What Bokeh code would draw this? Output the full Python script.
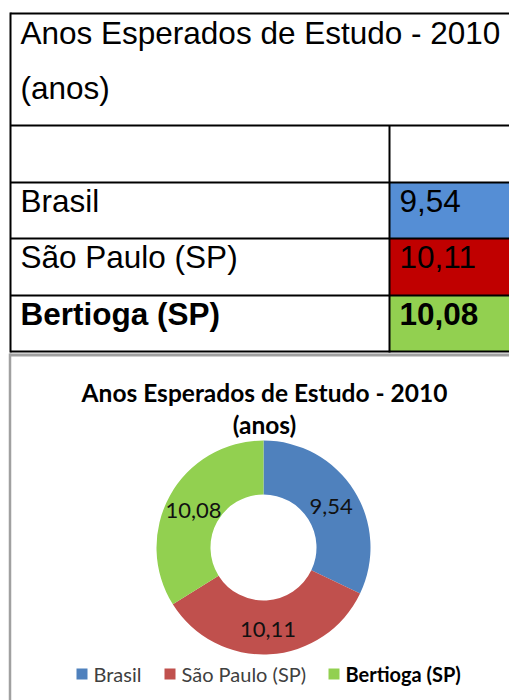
import numpy as np
from bokeh.plotting import figure
from bokeh.models import Range1d
from bokeh.core.properties import value
from bokeh.embed import file_html
from bokeh.resources import INLINE

# ---------------- data ----------------
title_lines = ["Anos Esperados de Estudo - 2010", "(anos)"]
categories = ["Brasil", "São Paulo (SP)", "Bertioga (SP)"]
values = [9.54, 10.11, 10.08]
table_colors = ["#558ED5", "#C00000", "#92D050"]
chart_colors = ["#4F81BD", "#C0504D", "#92D050"]
bold_flags = [False, False, True]

value_labels = [f"{v:.2f}".replace(".", ",") for v in values]

# ---------------- layout (page pixel coordinates) ----------------
W, H = 509, 700


def Y(py):
    return H - py


p = figure(width=W, height=H, x_range=Range1d(0, W), y_range=Range1d(0, H),
           output_backend="svg", toolbar_location=None, min_border=0,
           x_axis_location=None, y_axis_location=None)
p.xgrid.visible = False
p.ygrid.visible = False
p.outline_line_color = None
p.background_fill_color = "white"

# ----- table -----
row_tops = [182, 238, 295]
row_bottoms = [238, 295, 351]
row_text_mid = [200.5, 256.5, 313.5]
col_x = 389
TABLE_FONT = value("Liberation Sans")
TFS = "31.5px"

p.quad(left=col_x, right=515, top=[Y(t) for t in row_tops], bottom=[Y(b) for b in row_bottoms],
       fill_color=table_colors, line_color=None)

h_lines = [13, 125, 182, 238, 295, 351]
p.segment(x0=[10] * len(h_lines), x1=[515] * len(h_lines), y0=[Y(v) for v in h_lines],
          y1=[Y(v) for v in h_lines], line_color="black", line_width=2)
p.segment(x0=[10, col_x], x1=[10, col_x], y0=[Y(12), Y(125)], y1=[Y(352), Y(352)],
          line_color="black", line_width=2)

p.text(x=[20, 20], y=[Y(32.5), Y(87)], text=title_lines, text_font=TABLE_FONT,
       text_font_size=TFS, text_baseline="middle", text_align="left", text_color="black")

for i, (cat, lab) in enumerate(zip(categories, value_labels)):
    style = "bold" if bold_flags[i] else "normal"
    p.text(x=[20], y=[Y(row_text_mid[i])], text=[cat], text_font=TABLE_FONT,
           text_font_size=TFS, text_font_style=style, text_baseline="middle", text_color="black")
    p.text(x=[399], y=[Y(row_text_mid[i])], text=[lab], text_font=TABLE_FONT,
           text_font_size=TFS, text_font_style=style, text_baseline="middle", text_color="black")

# ----- chart frame -----
p.segment(x0=[9], x1=[515], y0=[Y(354.5)], y1=[Y(354.5)], line_color="#a0a0a0", line_width=3)
p.segment(x0=[9.5], x1=[9.5], y0=[Y(353)], y1=[Y(705)], line_color="#a0a0a0", line_width=2.5)

CHART_FONT = value("Lato")
p.text(x=[264, 264], y=[Y(391.5), Y(424)], text=title_lines, text_font=CHART_FONT,
       text_font_size="24.5px", text_font_style="bold", text_align="center",
       text_baseline="middle", text_color="black")

# ----- donut -----
cx, cy = 263, Y(547)
r_out, r_in = 107, 53
vals = np.array(values)
frac = vals / vals.sum()
cum = np.concatenate([[0], np.cumsum(frac)])
start = np.pi / 2 - 2 * np.pi * cum[:-1]
end = np.pi / 2 - 2 * np.pi * cum[1:]
p.annular_wedge(x=cx, y=cy, inner_radius=r_in, outer_radius=r_out,
                start_angle=start, end_angle=end, direction="clock",
                fill_color=chart_colors, line_color=None)

mid = (start + end) / 2
r_mid = (r_in + r_out) / 2
p.text(x=cx + r_mid * np.cos(mid), y=cy + r_mid * np.sin(mid) - 2, text=value_labels,
       text_font=CHART_FONT, text_font_size="22px", text_align="center",
       text_baseline="middle", text_color="#111111")

# ----- legend -----
leg_sq_x = [76, 164, 328]
leg_y = 673.5
sq = 11
p.quad(left=leg_sq_x, right=[x + sq for x in leg_sq_x], top=Y(leg_y - sq / 2),
       bottom=Y(leg_y + sq / 2), fill_color=chart_colors, line_color=None)
for i, cat in enumerate(categories):
    p.text(x=[leg_sq_x[i] + sq + 6], y=[Y(673)], text=[cat], text_font=CHART_FONT,
           text_font_size="20px", text_font_style="bold" if bold_flags[i] else "normal",
           text_baseline="middle", text_color="black" if bold_flags[i] else "#404040")

open("out.html", "w").write(file_html(p, INLINE))
